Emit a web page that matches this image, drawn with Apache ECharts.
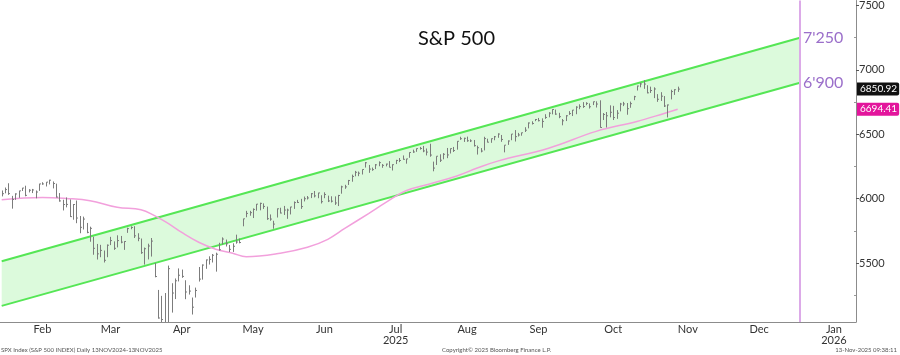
<!DOCTYPE html>
<html>
<head>
<meta charset="utf-8">
<title>S&amp;P 500</title>
<script src="https://cdn.jsdelivr.net/npm/echarts@6/dist/echarts.min.js"></script>
<style>
  html, body { margin: 0; padding: 0; background: #fff; }
  #chart { width: 900px; height: 355px; }
</style>
</head>
<body>
<div id="chart"></div>
<script>
// trading days shown on the axis (future part = weekdays)
const monthKeys = ['2025-01', '2025-02', '2025-03', '2025-04', '2025-05', '2025-06', '2025-07',
  '2025-08', '2025-09', '2025-10', '2025-11', '2025-12', '2026-01']
const monthDays = [
  [29, 30, 31],
  [3, 4, 5, 6, 7, 10, 11, 12, 13, 14, 18, 19, 20, 21, 24, 25, 26, 27, 28],
  [3, 4, 5, 6, 7, 10, 11, 12, 13, 14, 17, 18, 19, 20, 21, 24, 25, 26, 27, 28, 31],
  [1, 2, 3, 4, 7, 8, 9, 10, 11, 14, 15, 16, 17, 21, 22, 23, 24, 25, 28, 29, 30],
  [1, 2, 5, 6, 7, 8, 9, 12, 13, 14, 15, 16, 19, 20, 21, 22, 23, 27, 28, 29, 30],
  [2, 3, 4, 5, 6, 9, 10, 11, 12, 13, 16, 17, 18, 20, 23, 24, 25, 26, 27, 30],
  [1, 2, 3, 7, 8, 9, 10, 11, 14, 15, 16, 17, 18, 21, 22, 23, 24, 25, 28, 29, 30, 31],
  [1, 4, 5, 6, 7, 8, 11, 12, 13, 14, 15, 18, 19, 20, 21, 22, 25, 26, 27, 28, 29],
  [2, 3, 4, 5, 8, 9, 10, 11, 12, 15, 16, 17, 18, 19, 22, 23, 24, 25, 26, 29, 30],
  [1, 2, 3, 6, 7, 8, 9, 10, 13, 14, 15, 16, 17, 20, 21, 22, 23, 24, 27, 28, 29, 30, 31],
  [3, 4, 5, 6, 7, 10, 11, 12, 13, 14, 17, 18, 19, 20, 21, 24, 25, 26, 27, 28],
  [1, 2, 3, 4, 5, 8, 9, 10, 11, 12, 15, 16, 17, 18, 19, 22, 23, 24, 25, 26, 29, 30, 31],
  [1, 2, 5, 6, 7, 8, 9, 12, 13, 14, 15, 16, 19, 20, 21, 22, 23]
]
const monthNames = ['Jan', 'Feb', 'Mar', 'Apr', 'May', 'Jun', 'Jul', 'Aug', 'Sep', 'Oct', 'Nov', 'Dec']
const yearLabels = { '2025-07': '2025', '2026-01': '2026' }

// SPX daily bars, 29 Jan 2025 - 12 Nov 2025
const highs = [
  6064, 6087, 6120,
  6022, 6042, 6062, 6084, 6101, 6074, 6076, 6064, 6116, 6128, 6129, 6147, 6134, 6117, 6044, 5992, 6010, 5994, 5959,
  5986, 5866, 5861, 5812, 5783, 5705, 5649, 5642, 5598, 5645, 5704, 5669, 5716, 5711, 5670, 5775, 5786, 5787, 5732, 5691, 5621,
  5651, 5695, 5501, 5292, 5246, 5268, 5481, 5344, 5381, 5459, 5450, 5367, 5328, 5233, 5310, 5470, 5490, 5528, 5553, 5571, 5581,
  5658, 5700, 5683, 5641, 5654, 5721, 5691, 5845, 5906, 5906, 5925, 5959, 5969, 5964, 5939, 5878, 5829, 5924, 5930, 5944, 5923,
  5937, 5979, 5991, 5999, 6017, 6021, 6044, 6060, 6046, 6027, 6050, 6024, 6019, 6018, 6030, 6101, 6108, 6146, 6187, 6216,
  6211, 6228, 6285, 6262, 6242, 6269, 6290, 6269, 6272, 6292, 6267, 6302, 6316, 6336, 6310, 6360, 6381, 6390, 6402, 6410, 6390, 6427,
  6288, 6330, 6345, 6354, 6394, 6390, 6402, 6447, 6481, 6474, 6482, 6461, 6456, 6412, 6393, 6481, 6466, 6468, 6487, 6508, 6495,
  6416, 6453, 6502, 6533, 6511, 6513, 6555, 6592, 6601, 6619, 6627, 6624, 6656, 6672, 6695, 6692, 6667, 6619, 6649, 6680, 6689,
  6718, 6733, 6750, 6749, 6740, 6754, 6756, 6764, 6665, 6673, 6725, 6721, 6688, 6744, 6752, 6743, 6754, 6799, 6878, 6900, 6920, 6881, 6870,
  6865, 6812, 6827, 6797, 6731, 6846, 6850, 6870
]
const lows = [
  6018, 6042, 6030,
  5923, 5991, 6007, 6060, 6019, 6049, 6044, 6003, 6061, 6108, 6095, 6111, 6080, 6009, 5977, 5909, 5933, 5858, 5837,
  5810, 5732, 5761, 5732, 5666, 5565, 5528, 5546, 5505, 5546, 5640, 5603, 5622, 5654, 5603, 5735, 5763, 5695, 5670, 5572, 5489,
  5529, 5551, 5390, 5069, 4835, 4910, 4857, 5116, 5221, 5358, 5386, 5220, 5256, 5101, 5233, 5357, 5372, 5456, 5489, 5505, 5434,
  5597, 5644, 5629, 5586, 5587, 5651, 5654, 5786, 5856, 5868, 5850, 5907, 5910, 5921, 5836, 5829, 5767, 5854, 5886, 5874, 5844,
  5878, 5921, 5967, 5921, 5979, 5994, 6005, 6010, 6004, 5963, 6004, 5974, 5971, 5952, 5943, 6039, 6077, 6107, 6132, 6174,
  6175, 6188, 6242, 6201, 6217, 6230, 6252, 6240, 6251, 6243, 6219, 6269, 6284, 6303, 6272, 6318, 6356, 6364, 6381, 6361, 6336, 6326,
  6213, 6262, 6285, 6306, 6315, 6351, 6363, 6381, 6457, 6441, 6442, 6440, 6405, 6343, 6360, 6375, 6437, 6434, 6454, 6473, 6442,
  6360, 6418, 6454, 6444, 6483, 6489, 6518, 6546, 6576, 6602, 6600, 6551, 6620, 6632, 6655, 6651, 6625, 6570, 6603, 6651, 6642,
  6656, 6695, 6705, 6726, 6700, 6727, 6708, 6551, 6611, 6553, 6632, 6611, 6620, 6678, 6719, 6652, 6706, 6765, 6840, 6865, 6853, 6818, 6821,
  6781, 6752, 6759, 6712, 6631, 6771, 6806, 6829
]
const closes = [
  6039, 6071, 6040,
  5994, 6037, 6061, 6083, 6026, 6066, 6068, 6052, 6115, 6115, 6129, 6144, 6118, 6013, 5983, 5955, 5956, 5861, 5955,
  5850, 5778, 5842, 5739, 5770, 5615, 5572, 5599, 5522, 5639, 5675, 5615, 5675, 5663, 5668, 5768, 5777, 5712, 5693, 5581, 5612,
  5633, 5671, 5396, 5074, 5062, 4982, 5457, 5268, 5363, 5406, 5397, 5276, 5283, 5158, 5288, 5376, 5485, 5525, 5529, 5561, 5569,
  5604, 5687, 5650, 5607, 5631, 5664, 5660, 5844, 5886, 5892, 5917, 5958, 5964, 5940, 5845, 5842, 5803, 5922, 5889, 5912, 5912,
  5936, 5970, 5971, 5939, 6000, 6006, 6039, 6022, 6045, 5977, 6033, 5983, 5981, 5967, 6025, 6092, 6092, 6141, 6173, 6205,
  6198, 6227, 6279, 6230, 6226, 6263, 6280, 6259, 6269, 6244, 6264, 6297, 6297, 6306, 6309, 6359, 6363, 6389, 6390, 6371, 6362, 6339,
  6238, 6330, 6299, 6345, 6340, 6389, 6374, 6446, 6466, 6469, 6450, 6449, 6412, 6396, 6370, 6467, 6439, 6466, 6481, 6502, 6460,
  6416, 6448, 6502, 6482, 6495, 6512, 6532, 6588, 6584, 6615, 6606, 6600, 6631, 6664, 6693, 6657, 6637, 6605, 6644, 6661, 6688,
  6711, 6715, 6716, 6740, 6714, 6753, 6735, 6553, 6654, 6644, 6671, 6630, 6664, 6735, 6736, 6699, 6738, 6792, 6875, 6891, 6890, 6822, 6840,
  6852, 6772, 6796, 6720, 6728, 6832, 6846, 6850.92
]

// 50-day moving average (pink)
const maDates = ['2025-01-29', '2025-02-14', '2025-02-26', '2025-03-07', '2025-03-19', '2025-03-28', '2025-04-03',
  '2025-04-09', '2025-04-15', '2025-04-23', '2025-04-30', '2025-05-07', '2025-05-13', '2025-05-28', '2025-06-09',
  '2025-06-17', '2025-06-25', '2025-07-07', '2025-07-14', '2025-07-22', '2025-07-31', '2025-08-12', '2025-08-20',
  '2025-08-28', '2025-09-19', '2025-10-09', '2025-10-27', '2025-11-06', '2025-11-12']
const maValues = [5992, 6010, 6002, 5985, 5933, 5915, 5869, 5808, 5738, 5662, 5608, 5577, 5550, 5577, 5623,
  5685, 5769, 5885, 5969, 6062, 6115, 6177, 6238, 6292, 6392, 6523, 6600, 6662, 6694.41]

// trend channel
const channelDates = ['2025-01-29', '2026-01-01']
const channelUpper = [5514, 7250]
const channelLower = [5168, 6900]

const lastPrice = 6850.92
const lastMA = 6694.41
const yTicks = [5500, 6000, 6500, 7000, 7500]
const yMinorTicks = [5250, 5750, 6250, 6750, 7250]

const pad = n => (n < 10 ? '0' : '') + n
const dates = []
const monthStartIdx = {}
const labelIdx = {}
monthKeys.forEach((m, k) => {
  const start = dates.length
  const n = monthDays[k].length
  if (k > 0) {
    monthStartIdx[start] = true
    // last month runs past the edge, so its label sits further right
    labelIdx[start + (k === monthKeys.length - 1 ? 10 : Math.floor(n / 2))] = true
  }
  monthDays[k].forEach(d => dates.push(m + '-' + pad(d)))
})

const bars = closes.map((c, i) => [dates[i], highs[i], lows[i], c])
const maData = maDates.map((d, i) => [d, maValues[i]])
const lowerData = channelDates.map((d, i) => [d, channelLower[i]])
const bandData = channelDates.map((d, i) => [d, channelUpper[i] - channelLower[i]])

const font = 'Lato, "Liberation Sans", sans-serif'
const chart = echarts.init(document.getElementById('chart'))

function renderBar(params, api) {
  const hi = api.coord([api.value(0), api.value(1)])
  const lo = api.coord([api.value(0), api.value(2)])
  const cl = api.coord([api.value(0), api.value(3)])
  const x = Math.round(hi[0]) + 0.5
  return {
    type: 'group',
    children: [
      { type: 'line', shape: { x1: x, y1: hi[1], x2: x, y2: lo[1] }, style: { stroke: '#7c7c7c', lineWidth: 1 } },
      { type: 'line', shape: { x1: x, y1: cl[1], x2: x + 1.5, y2: cl[1] }, style: { stroke: '#7c7c7c', lineWidth: 1 } }
    ]
  }
}

const priceLabel = (text, bg) => ({
  show: true, position: 'end', distance: 1, formatter: text,
  color: '#fff', backgroundColor: bg, padding: [2, 2, 1, 3],
  borderRadius: [0, 2, 2, 0], fontSize: 10, fontFamily: font
})

const option = {
  backgroundColor: '#fff',
  animation: false,
  textStyle: { fontFamily: font },
  grid: { left: 0, right: 44, top: 0, bottom: 33 },
  xAxis: {
    type: 'category',
    data: dates,
    boundaryGap: true,
    axisLine: { lineStyle: { color: '#8c8c8c' } },
    axisTick: {
      interval: idx => !!monthStartIdx[idx],
      length: 3,
      lineStyle: { color: '#8c8c8c' }
    },
    axisLabel: {
      interval: idx => !!labelIdx[idx],
      color: '#333',
      fontSize: 11,
      lineHeight: 11,
      margin: 2,
      formatter: v => {
        const name = monthNames[parseInt(v.slice(5, 7), 10) - 1]
        const yr = yearLabels[v.slice(0, 7)]
        return yr ? name + '\n' + yr : name
      }
    },
    splitLine: { show: false }
  },
  yAxis: [
    {
      type: 'value',
      position: 'right',
      min: 5043,
      max: 7539,
      axisLine: { show: true, lineStyle: { color: '#8c8c8c' } },
      axisTick: { show: true, customValues: yTicks, length: 3, lineStyle: { color: '#555' } },
      axisLabel: { customValues: yTicks, color: '#333', fontSize: 11, margin: 3, formatter: v => String(v) },
      splitLine: { show: false }
    },
    {
      type: 'value',
      position: 'right',
      min: 5043,
      max: 7539,
      axisLine: { show: false },
      axisTick: { show: true, inside: true, customValues: yMinorTicks, length: 2, lineStyle: { color: '#999' } },
      axisLabel: { show: false },
      splitLine: { show: false }
    }
  ],
  series: [
    {
      name: 'lower',
      type: 'line',
      stack: 'channel',
      z: 2,
      data: lowerData,
      symbol: 'none',
      silent: true,
      lineStyle: { color: '#55e655', width: 2 },
      markPoint: {
        symbol: 'circle',
        symbolSize: 0,
        label: {
          show: true, position: 'right', distance: 3,
          color: '#9b6fca', fontSize: 16, fontFamily: font,
          formatter: p => p.name
        },
        data: [{ name: "6'900", coord: [channelDates[1], channelLower[1]] },
               { name: "7'250", coord: [channelDates[1], channelUpper[1]] }]
      },
      markLine: {
        symbol: 'none',
        silent: true,
        label: { show: false },
        lineStyle: { color: '#dcaae8', width: 2, type: 'solid' },
        data: [{ xAxis: '2026-01-01' }]
      }
    },
    {
      name: 'upper',
      type: 'line',
      stack: 'channel',
      z: 2,
      data: bandData,
      symbol: 'none',
      silent: true,
      lineStyle: { color: '#55e655', width: 2 },
      areaStyle: { color: '#dcfadc', opacity: 1 }
    },
    {
      name: 'MA',
      type: 'line',
      z: 3,
      data: maData,
      symbol: 'none',
      smooth: 0.4,
      silent: true,
      lineStyle: { color: '#f2a0dc', width: 1.5 }
    },
    {
      name: 'SPX',
      type: 'custom',
      z: 5,
      renderItem: renderBar,
      clip: true,
      encode: { x: 0, y: [1, 2, 3] },
      data: bars
    },
    {
      // carrier for the right-hand price tags
      name: 'tags',
      type: 'line',
      z: 6,
      data: [],
      silent: true,
      markLine: {
        symbol: 'none',
        silent: true,
        lineStyle: { color: 'rgba(0,0,0,0)', width: 1 },
        data: [
          { yAxis: lastPrice, label: priceLabel('6850.92', '#111') },
          { yAxis: lastMA, label: priceLabel('6694.41', '#e3159c') }
        ]
      }
    }
  ],
  graphic: [
    {
      type: 'text', left: 418, top: 29,
      style: { text: 'S&P 500', fontSize: 20, fill: '#111', fontFamily: font }
    },
    {
      type: 'text', left: 1, top: 347,
      style: { text: 'SPX Index (S&P 500 INDEX) Daily 13NOV2024-13NOV2025', fontSize: 6, fill: '#555', fontFamily: font }
    },
    {
      type: 'text', left: 442, top: 347,
      style: { text: 'Copyright\u00a9 2025 Bloomberg Finance L.P.', fontSize: 6, fill: '#555', fontFamily: font }
    },
    {
      type: 'text', right: 3, top: 347,
      style: { text: '13-Nov-2025 09:38:11', fontSize: 6, fill: '#555', fontFamily: font }
    }
  ]
}

chart.setOption(option)
</script>
</body>
</html>
